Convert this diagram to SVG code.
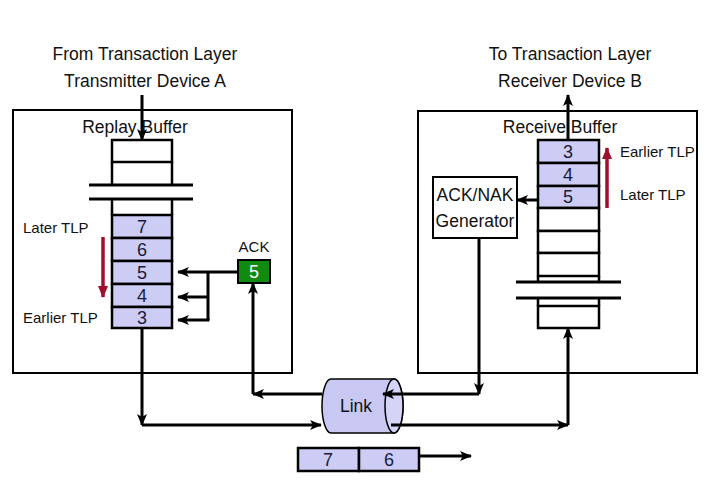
<svg xmlns="http://www.w3.org/2000/svg" width="720" height="500" viewBox="0 0 720 500">
<defs>
<marker id="ah" markerUnits="userSpaceOnUse" markerWidth="12" markerHeight="10" refX="11" refY="5" orient="auto">
<path d="M0,0 L12,5 L0,10 L3,5 Z" fill="#000"/>
</marker>
<marker id="ahr" markerUnits="userSpaceOnUse" markerWidth="12" markerHeight="10" refX="11" refY="5" orient="auto">
<path d="M0,0 L12,5 L0,10 Z" fill="#A0102E"/>
</marker>
<style>
text{font-family:"Liberation Sans",Arial,sans-serif;fill:#111;}
.t{font-size:17.5px;text-anchor:middle;}
.s{font-size:15px;}
.n{font-size:18px;text-anchor:middle;fill:#1a1a3a;}
.box{fill:#fff;stroke:#000;stroke-width:2;}
.cell{fill:#CCCCF4;stroke:#000;stroke-width:2.5;}
.wcell{fill:#fff;stroke:#000;stroke-width:2.5;}
.brk{stroke:#000;stroke-width:3;}
.c{fill:none;stroke:#000;stroke-width:3;marker-end:url(#ah);}
.r{fill:none;stroke:#A0102E;stroke-width:3.5;marker-end:url(#ahr);}
</style>
</defs>
<rect width="720" height="500" fill="#fff"/>

<g id="titles">
<text class="t" x="145" y="60">From Transaction Layer</text>
<text class="t" x="145" y="87">Transmitter Device A</text>
<text class="t" x="570" y="60">To Transaction Layer</text>
<text class="t" x="570" y="87">Receiver Device B</text>
</g>

<g id="deviceA">
<rect class="box" x="13" y="110" width="279" height="263"/>
<text class="t" x="135" y="133">Replay Buffer</text>
</g>
<g id="deviceB">
<rect class="box" x="418" y="111" width="279" height="262"/>
<text class="t" x="560" y="133">Receive Buffer</text>
</g>

<g id="replayBuffer">
<rect class="wcell" x="112" y="140" width="60" height="22"/>
<path d="M112,162 V186 M172,162 V186" stroke="#000" stroke-width="2.5"/>
<path d="M112,199 V215 M172,199 V215" stroke="#000" stroke-width="2.5"/>
<line class="brk" x1="89" y1="185" x2="193" y2="185"/>
<line class="brk" x1="89" y1="199" x2="193" y2="199"/>
<rect class="cell" x="112" y="215" width="60" height="23"/>
<rect class="cell" x="112" y="238" width="60" height="23"/>
<rect class="cell" x="112" y="261" width="60" height="23"/>
<rect class="cell" x="112" y="284" width="60" height="23"/>
<rect class="cell" x="112" y="307" width="60" height="21"/>
<text class="n" x="142" y="233">7</text>
<text class="n" x="142" y="256">6</text>
<text class="n" x="142" y="279">5</text>
<text class="n" x="142" y="302">4</text>
<text class="n" x="142" y="324">3</text>
<text class="s" x="23" y="233">Later TLP</text>
<text class="s" x="23" y="323">Earlier TLP</text>
<path class="r" d="M103,237 V297"/>
</g>

<g id="ack">
<text class="s" x="254" y="252" text-anchor="middle">ACK</text>
<rect x="238" y="260" width="32" height="23" fill="#108A10" stroke="#000" stroke-width="2"/>
<text class="n" x="254" y="278" style="fill:#fff">5</text>
</g>

<g id="receiveBuffer">
<rect class="cell" x="538" y="140" width="61" height="23"/>
<rect class="cell" x="538" y="163" width="61" height="23"/>
<rect class="cell" x="538" y="186" width="61" height="22"/>
<rect class="wcell" x="538" y="208" width="61" height="23"/>
<rect class="wcell" x="538" y="231" width="61" height="22"/>
<rect class="wcell" x="538" y="253" width="61" height="23"/>
<path d="M538,276 V283 M599,276 V283" stroke="#000" stroke-width="2.5"/>
<line class="brk" x1="516" y1="282" x2="621" y2="282"/>
<line class="brk" x1="516" y1="298" x2="621" y2="298"/>
<path d="M538,298 V306 M599,298 V306" stroke="#000" stroke-width="2.5"/>
<rect class="wcell" x="538" y="306" width="61" height="22"/>
<text class="n" x="568" y="158">3</text>
<text class="n" x="568" y="181">4</text>
<text class="n" x="568" y="203">5</text>
<text class="s" x="620" y="157">Earlier TLP</text>
<text class="s" x="620" y="200">Later TLP</text>
<path class="r" d="M607,208 V148"/>
</g>

<g id="ackNakGenerator">
<rect class="box" x="433" y="177" width="84" height="61"/>
<text class="t" x="475" y="201">ACK/NAK</text>
<text class="t" x="475" y="227">Generator</text>
</g>

<g id="link">
<path d="M331,379 H394 A9,27 0 0 1 394,433 H331 A9,27 0 0 1 331,379 Z" fill="#C8C8F2" stroke="#000" stroke-width="1.5"/>
<ellipse cx="394" cy="406" rx="9" ry="27" fill="#D4D4F6" stroke="#000" stroke-width="1.5"/>
<text class="t" x="356" y="412">Link</text>
</g>

<g id="packet">
<rect class="cell" x="298" y="448" width="61" height="23"/>
<rect class="cell" x="359" y="448" width="60" height="23"/>
<text class="n" x="328" y="466">7</text>
<text class="n" x="389" y="466">6</text>
</g>

<g id="connectors">
<path class="c" d="M142,95 V140"/>
<path class="c" d="M142,328 V425"/>
<path class="c" d="M142,425 H321"/>
<path class="c" d="M322,394 H253"/>
<path class="c" d="M253,394 V283"/>
<path class="c" d="M479,238 V394"/>
<path class="c" d="M479,394 H383"/>
<path class="c" d="M391,425 H568"/>
<path class="c" d="M568,425 V328"/>
<path class="c" d="M568,140 V95"/>
<path class="c" d="M238,272 H178"/>
<path fill="none" stroke="#000" stroke-width="3" d="M208,272 V320"/>
<path class="c" d="M208,297 H178"/>
<path class="c" d="M209.5,320 H178"/>
<path class="c" d="M538,200 H517"/>
<path class="c" d="M419,456 H471"/>
</g>
</svg>
